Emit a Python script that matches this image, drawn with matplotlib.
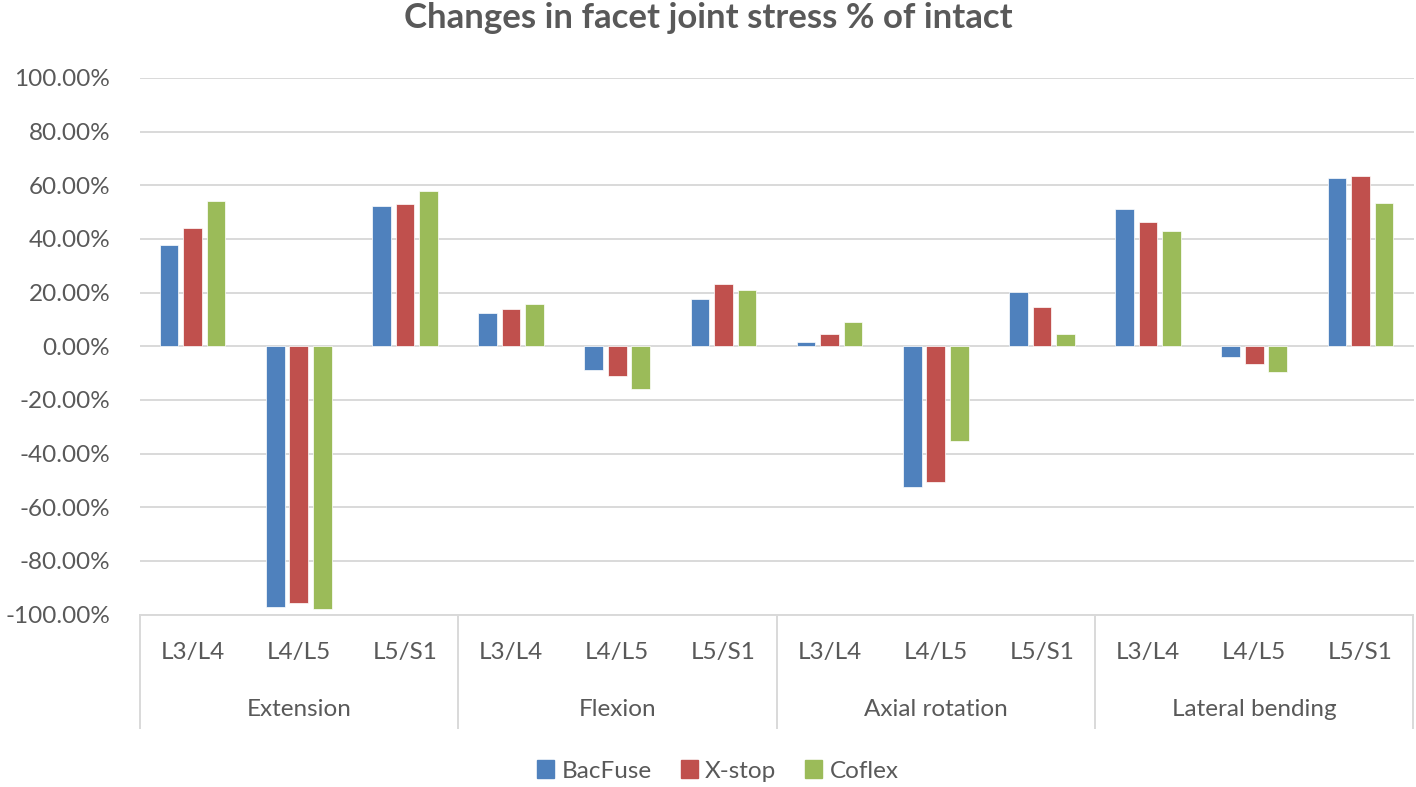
import matplotlib
matplotlib.use("Agg")
import matplotlib.pyplot as plt
from matplotlib.patches import Patch
from matplotlib.ticker import FuncFormatter
import matplotlib.transforms as mtransforms

groups = ["Extension", "Flexion", "Axial rotation", "Lateral bending"]
levels = ["L3/L4", "L4/L5", "L5/S1"]
series_names = ["BacFuse", "X-stop", "Coflex"]
colors = ["#4F81BD", "#C0504D", "#9BBB59"]

bacfuse = [37.7, -97.3, 52.1, 12.3, -9.0, 17.5, 1.7, -52.4, 20.2, 51.0, -4.0, 62.7]
xstop = [44.1, -95.6, 53.2, 14.0, -11.0, 23.3, 4.6, -50.6, 14.5, 46.5, -6.8, 63.3]
coflex = [54.0, -97.9, 57.8, 15.8, -16.1, 21.0, 9.2, -35.4, 4.6, 42.9, -9.7, 53.3]

title = "Changes in facet joint stress % of intact"

FONT = ["Lato", "DejaVu Sans"]
TXT = "#595959"
GRID = "#D9D9D9"
FS = 17.5

plt.rcParams["font.family"] = FONT

fig = plt.figure(figsize=(14.16, 7.87), dpi=100)
L, R, B, T = 139.5 / 1416, 1413.5 / 1416, 1 - 614.5 / 787, 1 - 78 / 787
ax = fig.add_axes([L, B, R - L, T - B])

n = len(bacfuse)
xs = list(range(n))
pitch = 0.221
width = 0.175
for k, (vals, c) in enumerate(zip([bacfuse, xstop, coflex], colors)):
    ax.bar([x + (k - 1) * pitch for x in xs], vals, width=width, color=c,
           edgecolor="white", linewidth=0.5, zorder=3)

ax.set_xlim(-0.5, n - 0.5)
ax.set_ylim(-100, 100)
ax.set_yticks(range(-100, 101, 20))
ax.yaxis.set_major_formatter(FuncFormatter(lambda v, p: f"{v:.2f}%"))
ax.grid(axis="y", color=GRID, linewidth=1.4, zorder=0)
ax.set_axisbelow(True)
for s in ["left", "right", "top"]:
    ax.spines[s].set_visible(False)
ax.spines["bottom"].set_color(GRID)
ax.spines["bottom"].set_linewidth(1.4)
ax.tick_params(axis="y", length=0, pad=21, labelsize=FS, labelcolor=TXT)

ax.set_xticks(xs)
ax.set_xticklabels(levels * len(groups))
ax.tick_params(axis="x", length=0, pad=20, labelsize=FS, labelcolor=TXT)

trans = mtransforms.blended_transform_factory(ax.transData, ax.transAxes)
sep_bottom = -(728 - 614.5) / (614.5 - 78)
for g in range(len(groups) + 1):
    xb = -0.5 + 3 * g
    ax.plot([xb, xb], [0, sep_bottom], transform=trans, color=GRID,
            linewidth=1.4, clip_on=False, zorder=1)
grp_y = -(710 - 614.5) / (614.5 - 78)
for g, name in enumerate(groups):
    ax.text(3 * g + 1, grp_y, name, transform=trans, ha="center", va="center",
            fontsize=FS, color=TXT)

fig.text(0.5, 1 - 18 / 787, title, ha="center", va="center",
         fontsize=25, fontweight="bold", color=TXT)

handles = [Patch(facecolor=c, edgecolor=c) for c in colors]
fig.legend(handles, series_names, loc="center", bbox_to_anchor=(0.507, 1 - 771 / 787),
           ncol=3, frameon=False, fontsize=FS, labelcolor=TXT,
           handlelength=0.7, handleheight=0.7, handletextpad=0.3, columnspacing=1.2)

fig.savefig("out.png", dpi=100, facecolor="white")
